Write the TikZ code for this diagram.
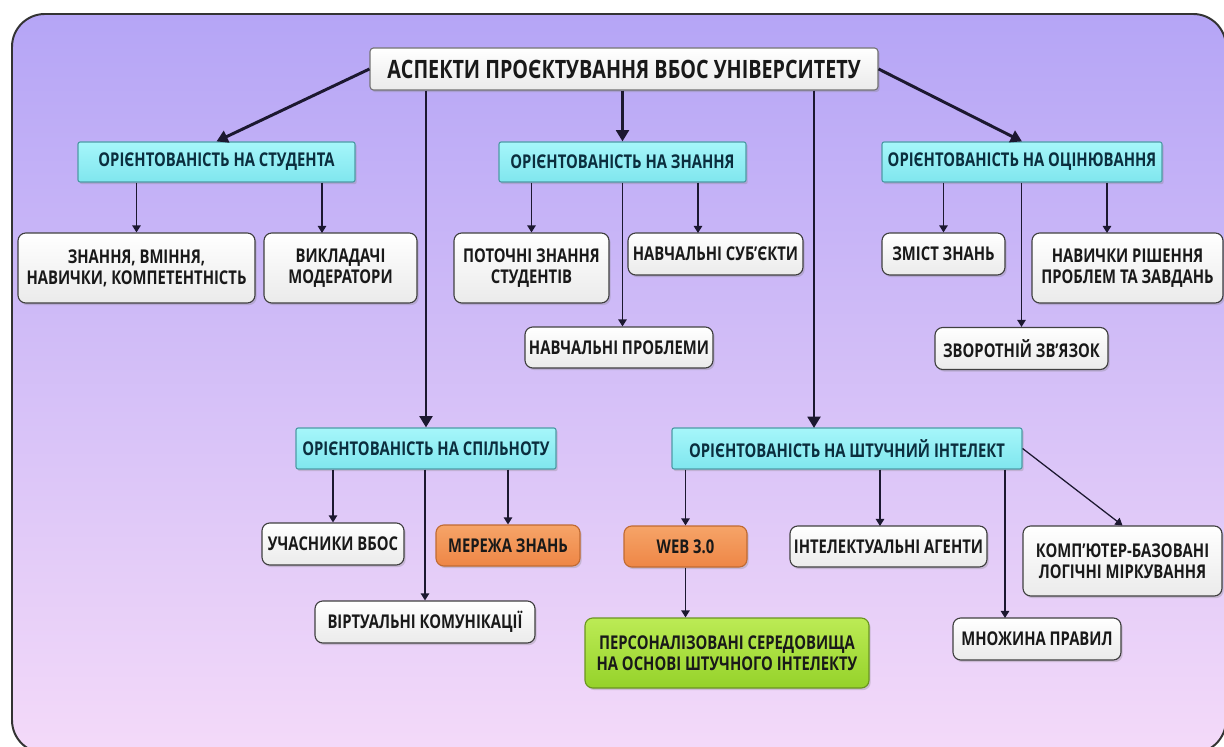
\documentclass[tikz,border=0pt]{standalone}
\usepackage{fontspec}
\setmainfont{Open Sans}[FakeStretch=0.78]
\usetikzlibrary{shadows,arrows.meta}

\definecolor{frametop}{HTML}{B5A5F6}
\definecolor{framebot}{HTML}{F4DAF9}
\definecolor{cyantop}{HTML}{A6F6FA}
\definecolor{cyanbot}{HTML}{7FE6EE}
\definecolor{cyanline}{HTML}{4E9BA6}
\definecolor{cyantext}{HTML}{0B2E3E}
\definecolor{orangetop}{HTML}{F6A468}
\definecolor{orangebot}{HTML}{EE8646}
\definecolor{orangeline}{HTML}{C06A32}
\definecolor{greentop}{HTML}{BCEB55}
\definecolor{greenbot}{HTML}{95D22A}
\definecolor{greenline}{HTML}{6A9620}
\definecolor{arrowcol}{HTML}{1C1830}

\tikzset{
  wh/.style 2 args={minimum width=#1*0.025cm, minimum height=#2*0.025cm},
  box/.style={draw=black!75, line width=0.8pt, rounded corners=5.5pt, align=center,
    inner sep=1pt, top color=white, bottom color=black!8, text=black!90,
    font=\fontsize{13.5}{14.8}\selectfont\bfseries,
    drop shadow={opacity=0.3, shadow xshift=1.2pt, shadow yshift=-1.5pt}},
  aspect/.style={box, draw=cyanline, rounded corners=1.5pt, top color=cyantop,
    bottom color=cyanbot, text=cyantext},
  orangebox/.style={box, draw=orangeline, top color=orangetop, bottom color=orangebot},
  greenbox/.style={box, draw=greenline, top color=greentop, bottom color=greenbot},
  titlebox/.style={box, draw=black!55, rounded corners=2.5pt,
    font=\fontsize{18}{20}\selectfont\bfseries},
  main/.style={draw=arrowcol, line width=2.1pt, -{Triangle[length=8pt,width=9pt]}},
  sub/.style={draw=arrowcol, line width=0.9pt, -{Triangle[length=5pt,width=6pt]}}
}

\begin{document}
\begin{tikzpicture}[x=0.025cm, y=-0.025cm]
\useasboundingbox (0,0) rectangle (1224,747);
\fill[white] (0,0) rectangle (1224,747);
% frame
\draw[draw=black!80, line width=1.4pt, rounded corners=0.82cm,
  top color=frametop, bottom color=framebot] (12,14) rectangle (1226,753);

% title and aspects
\node[titlebox, wh={508}{42}] (title) at (624,69) {АСПЕКТИ ПРОЄКТУВАННЯ ВБОС УНІВЕРСИТЕТУ};
\node[aspect, wh={277}{40}] (stud) at (216.5,162) {ОРІЄНТОВАНІСТЬ НА СТУДЕНТА};
\node[aspect, wh={247}{40}] (know) at (622.5,162) {ОРІЄНТОВАНІСТЬ НА ЗНАННЯ};
\node[aspect, wh={280}{40}] (assess) at (1022,162) {ОРІЄНТОВАНІСТЬ НА ОЦІНЮВАННЯ};
\node[aspect, wh={260}{41}] (comm) at (426,448.5) {ОРІЄНТОВАНІСТЬ НА СПІЛЬНОТУ};
\node[aspect, wh={350}{41}] (ai) at (847,448.5) {ОРІЄНТОВАНІСТЬ НА ШТУЧНИЙ ІНТЕЛЕКТ};

% student
\node[box, wh={237}{70}] (zvn) at (136.5,268) {ЗНАННЯ, ВМІННЯ,\\НАВИЧКИ, КОМПЕТЕНТНІСТЬ};
\node[box, wh={153}{70}] (vykl) at (340.5,268) {ВИКЛАДАЧІ\\МОДЕРАТОРИ};
% knowledge
\node[box, wh={155}{70}] (potoch) at (531.5,268) {ПОТОЧНІ ЗНАННЯ\\СТУДЕНТІВ};
\node[box, wh={175}{42}] (subj) at (715.5,254) {НАВЧАЛЬНІ СУБ’ЄКТИ};
\node[box, wh={188}{41}] (probl) at (619,347.5) {НАВЧАЛЬНІ ПРОБЛЕМИ};
% assessment
\node[box, wh={123}{42}] (zmist) at (943.5,254) {ЗМІСТ ЗНАНЬ};
\node[box, wh={191}{70}] (navych) at (1127.5,268) {НАВИЧКИ РІШЕННЯ\\ПРОБЛЕМ ТА ЗАВДАНЬ};
\node[box, wh={173}{42}] (zvor) at (1021.5,348.5) {ЗВОРОТНІЙ ЗВ'ЯЗОК};
% community
\node[box, wh={142}{42}] (uchas) at (333,544) {УЧАСНИКИ ВБОС};
\node[orangebox, wh={144}{41}] (merezha) at (508,545.5) {МЕРЕЖА ЗНАНЬ};
\node[box, wh={220}{42}] (virt) at (425,622) {ВІРТУАЛЬНІ КОМУНІКАЦІЇ};
% artificial intelligence
\node[orangebox, wh={123}{41}] (web) at (685.5,546.5) {WEB 3.0};
\node[box, wh={197}{41}] (agent) at (888.5,546.5) {ІНТЕЛЕКТУАЛЬНІ АГЕНТИ};
\node[box, wh={199}{70}] (komp) at (1122.5,561) {КОМП’ЮТЕР-БАЗОВАНІ\\ЛОГІЧНІ МІРКУВАННЯ};
\node[box, wh={168}{42}] (mnozh) at (1037,639) {МНОЖИНА ПРАВИЛ};
\node[greenbox, wh={284}{70}] (pers) at (727,653) {ПЕРСОНАЛІЗОВАНІ СЕРЕДОВИЩА\\НА ОСНОВІ ШТУЧНОГО ІНТЕЛЕКТУ};

% arrow ends that are off the box centre
\coordinate (aiin) at (814,428);
\coordinate (vyklin) at (322,233);
\coordinate (subjin) at (698,233);
\coordinate (navychin) at (1107,233);
\coordinate (agentin) at (880,526);
\coordinate (mnozhin) at (1005,618);

% main arrows
\draw[main] (title.west) -- (stud.north);
\draw[main] (title.south -| know.north) -- (know.north);
\draw[main] (title.east) -- (assess.north);
\draw[main] (title.south -| comm.north) -- (comm.north);
\draw[main] (title.south -| aiin) -- (aiin);

% sub arrows
\foreach \a/\b in {stud/zvn.north, stud/vyklin, know/potoch.north, know/subjin,
    assess/zmist.north, assess/navychin, assess/zvor.north, comm/uchas.north,
    comm/merezha.north, comm/virt.north, ai/web.north, ai/agentin, ai/mnozhin}
  \draw[sub] (\a.south -| \b) -- (\b);
\draw[sub] (know.south) -- (know.south |- probl.north);
\draw[sub] (web.south) -- (web.south |- pers.north);
\draw[sub] (ai.east) -- (komp.north);
\end{tikzpicture}
\end{document}
